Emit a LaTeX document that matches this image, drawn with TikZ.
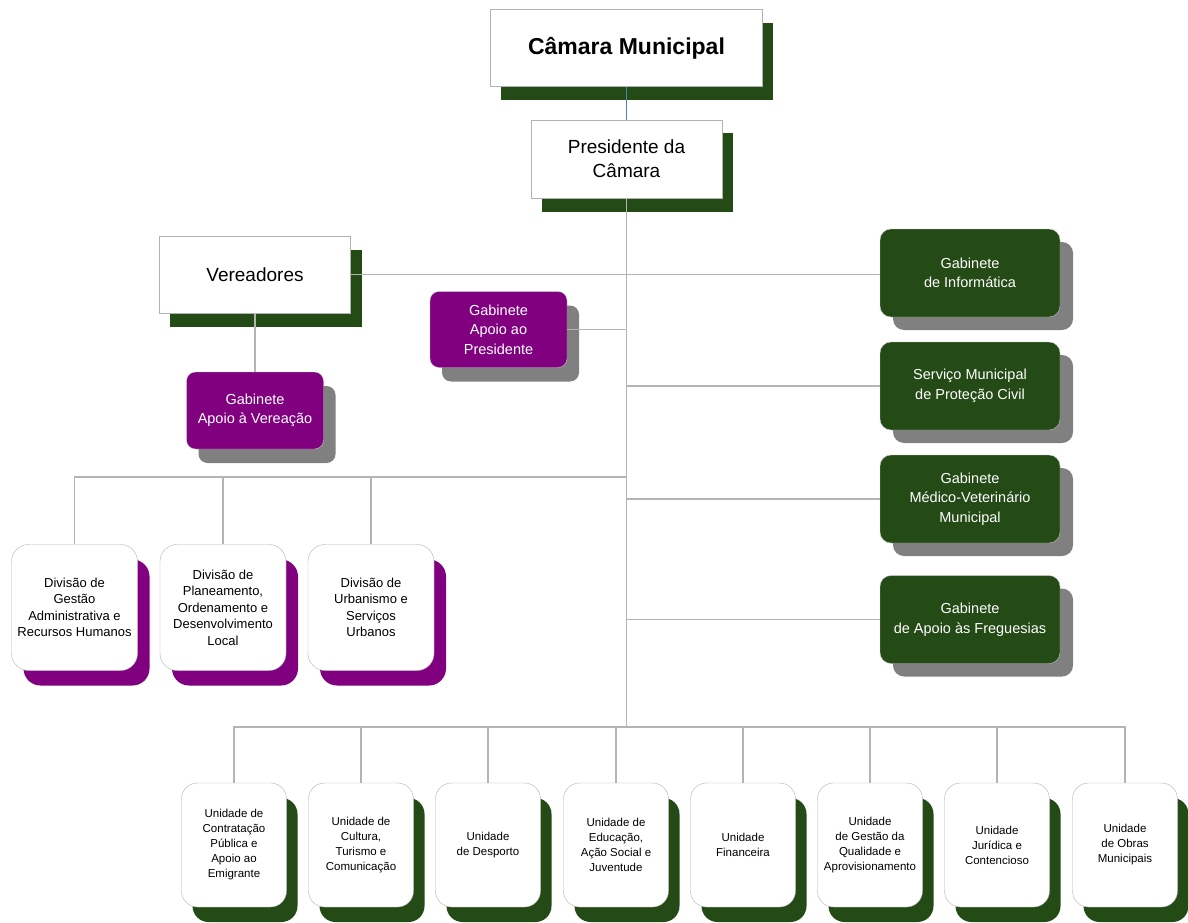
\documentclass[tikz,border=0pt]{standalone}
\usepackage{fontspec}
\setmainfont{Liberation Sans}
\usetikzlibrary{shadows}
\definecolor{verdeescuro}{RGB}{36,74,22}
\definecolor{roxo}{RGB}{128,0,128}
\definecolor{sombra}{RGB}{128,128,128}
\definecolor{azul}{RGB}{79,129,189}
\definecolor{traco}{RGB}{180,180,180}
\tikzset{
  caixa/.style={rectangle,draw=gray!60,fill=white,align=center,
    drop shadow={shadow xshift=10.5pt,shadow yshift=-13.5pt,fill=verdeescuro,opacity=1}},
  gabroxo/.style={rectangle,rounded corners=9pt,draw=gray!45,fill=roxo,text=white,align=center,
    minimum width=137pt,minimum height=76pt,font=\fontsize{14.5}{19.5}\selectfont,
    drop shadow={shadow xshift=12pt,shadow yshift=-14pt,fill=sombra,opacity=1}},
  gabverde/.style={rectangle,rounded corners=11pt,draw=gray!45,fill=verdeescuro,text=white,align=center,
    minimum width=180pt,minimum height=88pt,font=\fontsize{14.5}{19.5}\selectfont,
    drop shadow={shadow xshift=13pt,shadow yshift=-13pt,fill=sombra,opacity=1}},
  divisao/.style={rectangle,rounded corners=17pt,draw=gray!60,fill=white,align=center,
    minimum width=126pt,minimum height=126pt,font=\fontsize{13}{16.5}\selectfont,
    drop shadow={shadow xshift=12pt,shadow yshift=-15pt,fill=roxo,opacity=1}},
  unidade/.style={rectangle,rounded corners=16pt,draw=gray!60,fill=white,align=center,
    minimum width=105pt,minimum height=124pt,font=\fontsize{11.5}{15}\selectfont,
    drop shadow={shadow xshift=11pt,shadow yshift=-15pt,fill=verdeescuro,opacity=1}},
  ligacao/.style={draw=traco,line width=1.3pt}
}
\begin{document}
\begin{tikzpicture}[x=1pt,y=-1pt]
  \useasboundingbox (0,0) rectangle (1188,923);

  % topo
  \node[caixa,minimum width=272pt,minimum height=77pt,font=\fontsize{23}{28}\selectfont\bfseries] (camara) at(626.5,48){Câmara Municipal};
  \node[caixa,minimum width=191pt,minimum height=78pt,font=\fontsize{19}{24}\selectfont] (presidente) at(626.5,159){Presidente da\\Câmara};
  \node[caixa,minimum width=191pt,minimum height=77pt,font=\fontsize{19}{24}\selectfont,
    drop shadow={shadow xshift=11pt,shadow yshift=-14pt,fill=verdeescuro,opacity=1}] (vereadores) at(255,274.5){Vereadores};

  % gabinetes
  \node[gabroxo] (apoiopres) at(498.5,329.5){Gabinete\\Apoio ao\\Presidente};
  \node[gabroxo,minimum height=77pt] (apoiover) at(255,410.5){Gabinete\\Apoio à Vereação};
  \node[gabverde] (informatica) at(970,273){Gabinete\\de Informática};
  \node[gabverde] (protecao) at(970,386){Serviço Municipal\\de Proteção Civil};
  \node[gabverde] (veterinario) at(970,499){Gabinete\\Médico-Veterinário\\Municipal};
  \node[gabverde] (freguesias) at(970,619.5){Gabinete\\de Apoio às Freguesias};

  % divisoes
  \node[divisao] (div1) at(74.5,607.5){Divisão de\\Gestão\\Administrativa e\\Recursos Humanos};
  \node[divisao] (div2) at(223,607.5){Divisão de\\Planeamento,\\Ordenamento e\\Desenvolvimento\\Local};
  \node[divisao] (div3) at(371,607.5){Divisão de\\Urbanismo e\\Serviços\\Urbanos};

  % unidades
  \node[unidade] (un1) at(234,845){Unidade de\\Contratação\\Pública e\\Apoio ao\\Emigrante};
  \node[unidade] (un2) at(361,845){Unidade de\\Cultura,\\Turismo e\\Comunicação};
  \node[unidade] (un3) at(488,845){Unidade\\de Desporto};
  \node[unidade] (un4) at(616,845){Unidade de\\Educação,\\Ação Social e\\Juventude};
  \node[unidade] (un5) at(743,845){Unidade\\Financeira};
  \node[unidade] (un6) at(870,845){Unidade\\de Gestão da\\Qualidade e\\Aprovisionamento};
  \node[unidade] (un7) at(997,845){Unidade\\Jurídica e\\Contencioso};
  \node[unidade] (un8) at(1125,845){Unidade\\de Obras\\Municipais};

  % ligacoes
  \coordinate (barradiv) at(626.5,477);
  \coordinate (barraun) at(626.5,727);
  \draw[azul,line width=1.3pt] (camara.south) -- (presidente.north);
  \draw[ligacao] (presidente.south) -- (barraun);
  \draw[ligacao] (vereadores.east) -- (vereadores.east -| informatica.west);
  \draw[ligacao] (vereadores.south) -- (apoiover.north);
  \draw[ligacao] (apoiopres.east) -- (apoiopres.east -| barraun);
  \draw[ligacao] (protecao.west -| barraun) -- (protecao.west);
  \draw[ligacao] (veterinario.west -| barraun) -- (veterinario.west);
  \draw[ligacao] (freguesias.west -| barraun) -- (freguesias.west);
  \draw[ligacao] (div1.north) -- (div1.north |- barradiv) -- (barradiv);
  \draw[ligacao] (div2.north) -- (div2.north |- barradiv);
  \draw[ligacao] (div3.north) -- (div3.north |- barradiv);
  \draw[ligacao] (un1.north) -- (un1.north |- barraun) -- (un8.north |- barraun) -- (un8.north);
  \draw[ligacao] (un2.north) -- (un2.north |- barraun);
  \draw[ligacao] (un3.north) -- (un3.north |- barraun);
  \draw[ligacao] (un4.north) -- (un4.north |- barraun);
  \draw[ligacao] (un5.north) -- (un5.north |- barraun);
  \draw[ligacao] (un6.north) -- (un6.north |- barraun);
  \draw[ligacao] (un7.north) -- (un7.north |- barraun);
\end{tikzpicture}
\end{document}
